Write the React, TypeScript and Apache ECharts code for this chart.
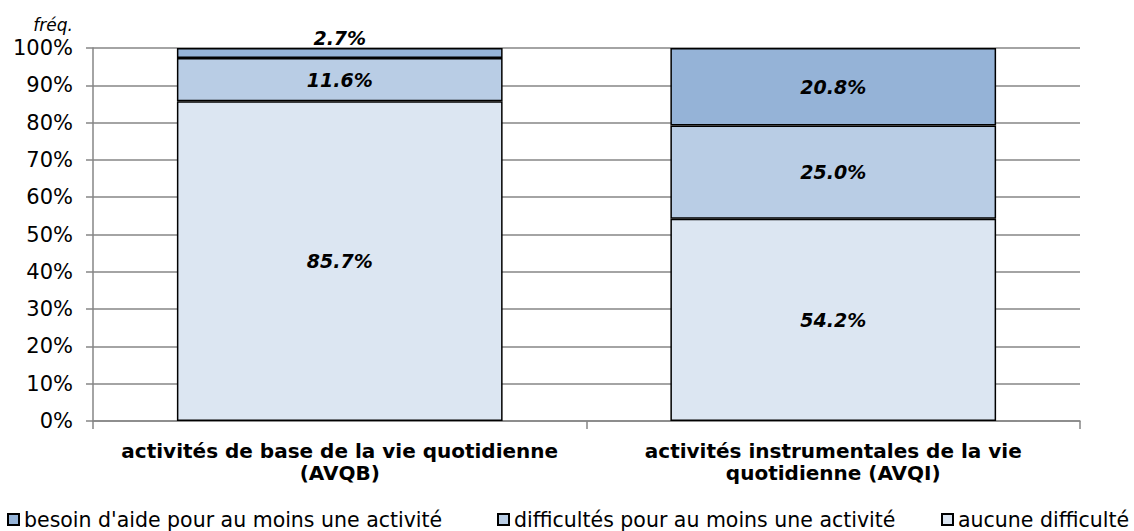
import React, { useEffect, useRef } from "react";
import * as echarts from "echarts";

const categories = [
  "activités de base de la vie quotidienne\n(AVQB)",
  "activités instrumentales de la vie\nquotidienne (AVQI)",
];
const seriesNames = [
  "besoin d'aide pour au moins une activité",
  "difficultés pour au moins une activité",
  "aucune difficulté",
];
const besoin = [2.7, 20.8];
const difficultes = [11.6, 25.0];
const aucune = [85.7, 54.2];
const yTicks = [0, 10, 20, 30, 40, 50, 60, 70, 80, 90, 100];

const FONT = "DejaVu Sans, Verdana, sans-serif";
const legendLefts = [7, 497, 941];

export default function App() {
  const ref = useRef<HTMLDivElement>(null);
  useEffect(() => {
    if (!ref.current) return;
    const chart = echarts.init(ref.current, undefined, { renderer: "svg" });
    const labelStyle = {
      show: true,
      position: "inside",
      fontFamily: FONT,
      fontSize: 19,
      fontWeight: "bold",
      fontStyle: "italic",
      color: "#000",
      formatter: (p: any) => `${Number(p.value).toFixed(1)}%`,
    };
    const item = (c: string) => ({ color: c, borderColor: "#000", borderWidth: 1.5 });
    chart.setOption({
      animation: false,
      textStyle: { fontFamily: FONT },
      grid: { left: 93, right: 54, top: 48, bottom: 110, containLabel: false },
      legend: seriesNames.map((name, i) => ({
        data: [name],
        left: legendLefts[i],
        top: 509,
        padding: 0,
        itemWidth: 11,
        itemHeight: 11,
        icon: "rect",
        selectedMode: false,
        textStyle: { fontFamily: FONT, fontSize: 20.5, color: "#000" },
      })),
      graphic: [
        {
          type: "text",
          right: 1134 - 73,
          top: 16,
          style: { text: "fréq.", font: `italic 17px ${FONT}`, fill: "#000", textAlign: "right" },
        },
      ],
      xAxis: {
        type: "category",
        data: categories,
        axisLine: { lineStyle: { color: "#868686", width: 1.5 } },
        axisTick: { show: true, length: 8, lineStyle: { color: "#868686", width: 1.5 } },
        axisLabel: {
          interval: 0,
          fontFamily: FONT,
          fontSize: 20,
          fontWeight: "bold",
          color: "#000",
          margin: 19,
          lineHeight: 22,
        },
      },
      yAxis: {
        type: "value",
        min: yTicks[0],
        max: yTicks[yTicks.length - 1],
        interval: 10,
        axisLine: { show: true, lineStyle: { color: "#868686", width: 1.5 } },
        axisTick: { show: true, length: 7, lineStyle: { color: "#868686", width: 1.5 } },
        splitLine: { lineStyle: { color: "#868686", width: 1.5 } },
        axisLabel: {
          formatter: (v: number) => `${v}%`,
          fontFamily: FONT,
          fontSize: 21,
          color: "#000",
          margin: 20,
        },
      },
      series: [
        {
          name: seriesNames[2],
          type: "bar",
          stack: "t",
          barWidth: "66%",
          data: aucune,
          itemStyle: item("#DCE6F2"),
          label: labelStyle,
        },
        {
          name: seriesNames[1],
          type: "bar",
          stack: "t",
          data: difficultes,
          itemStyle: item("#B9CDE5"),
          label: labelStyle,
        },
        {
          name: seriesNames[0],
          type: "bar",
          stack: "t",
          data: besoin.map((v) =>
            v < 5 ? { value: v, label: { position: "top", distance: 1 } } : v
          ),
          itemStyle: item("#95B3D7"),
          label: labelStyle,
        },
      ],
    });
    return () => chart.dispose();
  }, []);
  return <div ref={ref} style={{ width: 1134, height: 531, position: "absolute", left: 0, top: 0 }} />;
}
